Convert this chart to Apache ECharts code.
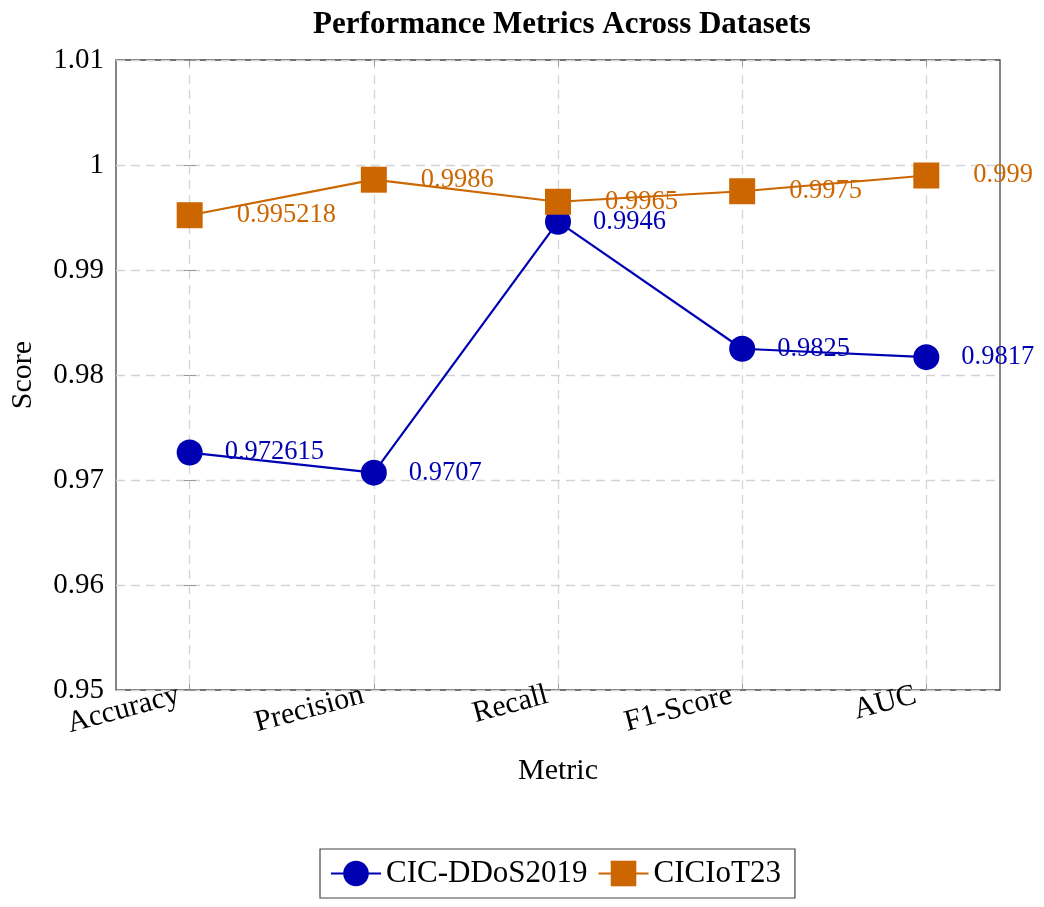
<!DOCTYPE html>
<html>
<head>
<meta charset="utf-8">
<script src="https://cdn.jsdelivr.net/npm/echarts@6/dist/echarts.min.js"></script>
<style>html,body{margin:0;padding:0;background:#fff}#c{width:1044px;height:907px}</style>
</head>
<body>
<div id="c"></div>
<script>
const categories = ['Accuracy', 'Precision', 'Recall', 'F1-Score', 'AUC'];
const ddosValues = [0.972615, 0.9707, 0.9946, 0.9825, 0.9817];
const iotValues = [0.995218, 0.9986, 0.9965, 0.9975, 0.999];
const ddosLabels = ['0.972615', '0.9707', '0.9946', '0.9825', '0.9817'];
const iotLabels = ['0.995218', '0.9986', '0.9965', '0.9975', '0.999'];
const yTicks = [0.95, 0.96, 0.97, 0.98, 0.99, 1.0, 1.01];
const seriesNames = ['CIC-DDoS2019', 'CICIoT23'];

const FONT = '"Liberation Serif", "DejaVu Serif", serif';
const BLUE = '#0000B3';
const ORANGE = '#CC6600';
const idx = categories.map((_, i) => i);

function pts(vals) { return vals.map((v, i) => [i, v]); }

const chart = echarts.init(document.getElementById('c'), null, {renderer: 'canvas'});
chart.setOption({
  backgroundColor: '#fff',
  animation: false,
  textStyle: {fontFamily: FONT},
  title: {
    text: 'Performance Metrics Across Datasets',
    left: 557, top: 4, textAlign: 'center',
    textStyle: {fontFamily: FONT, fontSize: 31, fontWeight: 'bold', color: '#000'}
  },
  grid: {
    left: 115, right: 44, top: 60, bottom: 217,
    show: true, borderColor: '#444', borderWidth: 1.3, backgroundColor: 'transparent'
  },
  legend: {
    bottom: 9, left: 320,
    data: seriesNames,
    itemWidth: 50, itemHeight: 32, itemGap: 10,
    borderColor: '#444', borderWidth: 1.2, borderRadius: 0,
    padding: [9, 14, 9, 10],
    textStyle: {fontFamily: FONT, fontSize: 31, color: '#000'}
  },
  xAxis: [{
    type: 'value', min: -0.4, max: 4.4,
    name: 'Metric', nameLocation: 'middle', nameGap: 66,
    nameTextStyle: {fontFamily: FONT, fontSize: 30, color: '#000'},
    axisLine: {show: false},
    axisTick: {show: true, inside: true, length: 6, customValues: idx, lineStyle: {color: '#999'}},
    axisLabel: {
      customValues: idx, rotate: 15, margin: 2,
      fontFamily: FONT, fontSize: 30, color: '#000',
      padding: [0, 11, 0, 0],
      formatter: v => categories[Math.round(v)]
    },
    splitLine: {show: true, lineStyle: {color: '#d4d4d4', width: 1.3, type: [9, 6]}}
  }, {
    type: 'value', position: 'top', min: -0.4, max: 4.4,
    axisLine: {show: false},
    axisTick: {show: true, inside: true, length: 6, customValues: idx, lineStyle: {color: '#999'}},
    axisLabel: {show: false},
    splitLine: {show: false}
  }],
  yAxis: [{
    type: 'value', min: 0.95, max: 1.01, interval: 0.01,
    name: 'Score', nameLocation: 'middle', nameGap: 78,
    nameTextStyle: {fontFamily: FONT, fontSize: 30, color: '#000'},
    axisLine: {show: false},
    axisTick: {show: true, inside: true, length: 6, lineStyle: {color: '#999'}},
    axisLabel: {
      margin: 12, fontFamily: FONT, fontSize: 29, color: '#000',
      formatter: v => String(parseFloat(v.toFixed(2)))
    },
    splitLine: {show: true, lineStyle: {color: '#d4d4d4', width: 1.3, type: [9, 6]}}
  }, {
    type: 'value', position: 'right', min: 0.95, max: 1.01, interval: 0.01,
    axisLine: {show: false},
    axisTick: {show: true, inside: true, length: 6, lineStyle: {color: '#999'}},
    axisLabel: {show: false},
    splitLine: {show: false}
  }],
  series: [{
    name: seriesNames[0], type: 'line',
    data: pts(ddosValues),
    symbol: 'circle', symbolSize: 26,
    lineStyle: {color: BLUE, width: 2.2},
    itemStyle: {color: BLUE},
    label: {
      show: true, position: 'right', distance: 22,
      fontFamily: FONT, fontSize: 26.5, color: BLUE,
      formatter: p => ddosLabels[p.dataIndex]
    },
    z: 3
  }, {
    name: seriesNames[1], type: 'line',
    data: pts(iotValues),
    symbol: 'rect', symbolSize: 26,
    lineStyle: {color: ORANGE, width: 2.2},
    itemStyle: {color: ORANGE},
    label: {
      show: true, position: 'right', distance: 34,
      fontFamily: FONT, fontSize: 26.5, color: ORANGE,
      formatter: p => iotLabels[p.dataIndex]
    },
    z: 4
  }]
});
</script>
</body>
</html>
